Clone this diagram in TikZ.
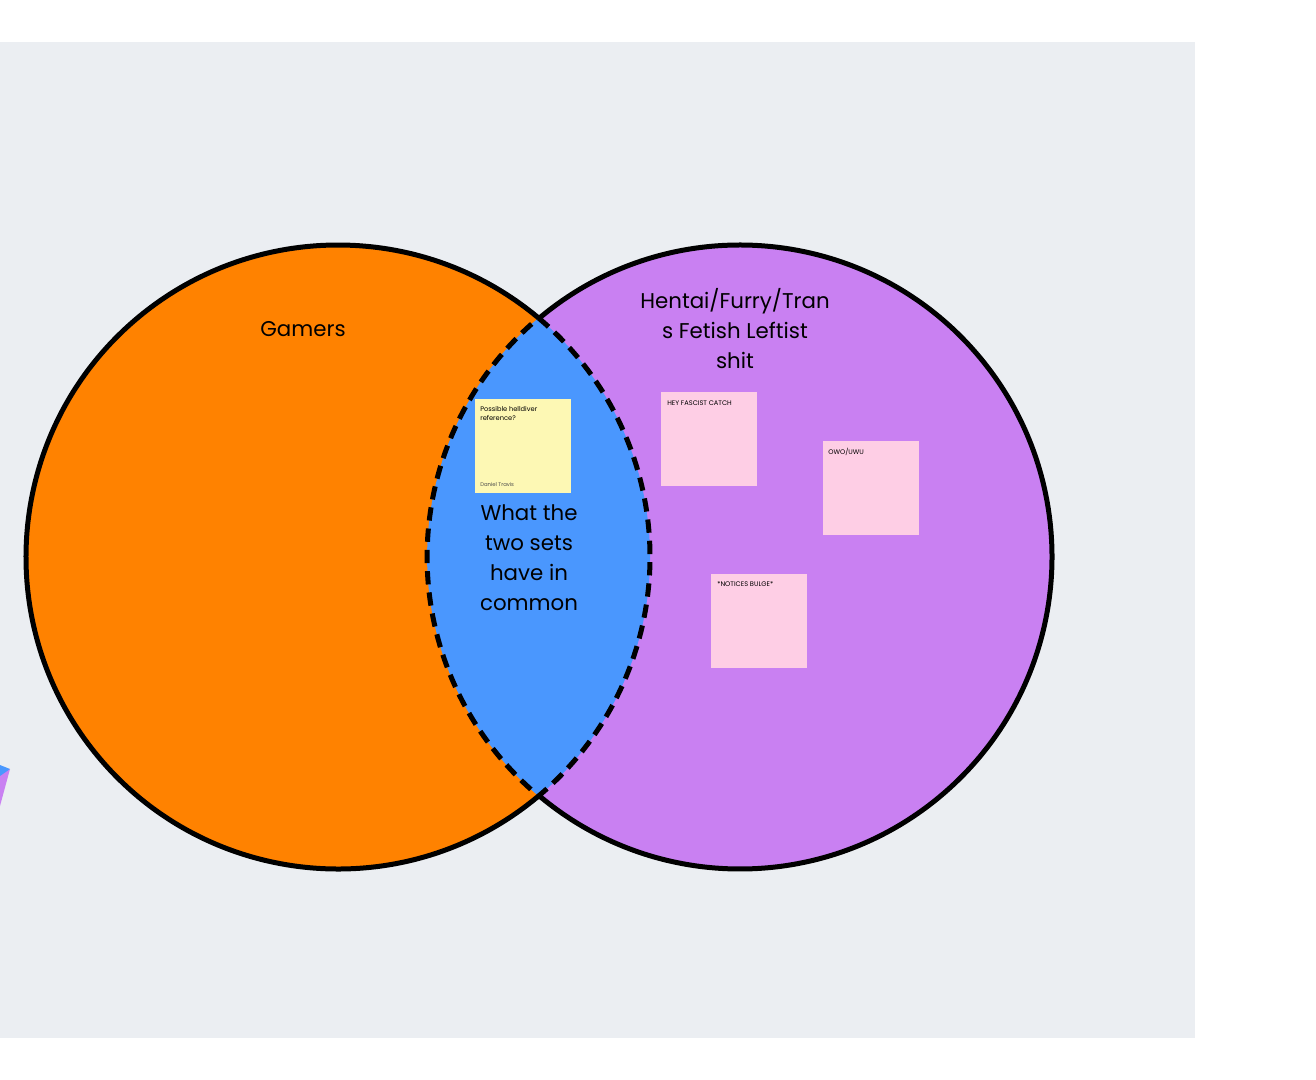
\documentclass[tikz,border=0pt]{standalone}
\usepackage{fontspec}
\setmainfont{Poppins}
\usepackage{tikz}
\usetikzlibrary{positioning}

\definecolor{canvasbg}{RGB}{235,238,242}
\definecolor{setorange}{RGB}{255,130,0}
\definecolor{setpurple}{RGB}{201,128,242}
\definecolor{setblue}{RGB}{74,151,254}
\definecolor{notepink}{RGB}{254,206,229}
\definecolor{noteyellow}{RGB}{253,248,180}

\tikzset{
  setlabel/.style={align=center, font=\fontsize{16}{22.5}\selectfont, inner sep=0.75pt},
  sticky/.style={minimum width=72pt, minimum height=70pt, inner sep=0pt},
  stickytext/.style={anchor=north west, font=\fontsize{5}{7}\selectfont, inner sep=0.75pt, align=left},
}

\begin{document}
\begin{tikzpicture}[x=0.75pt,y=0.75pt,yscale=-1,xscale=1]
\useasboundingbox (0,0) rectangle (1316,1080);

%Background
\fill [canvasbg] (0,42) rectangle (1195,1038);

%Circles
\fill [setorange] (338,557) circle (312);
\fill [setpurple] (740,557) circle (312);
%Lens
\fill [setblue] (338,557) ++(-50:312) arc (-50:50:312) arc (130:230:312) -- cycle;
\draw [line width=3.75pt] (338,557) ++(50:312) arc (50:310:312);
\draw [line width=3.75pt] (740,557) ++(-130:312) arc (-130:130:312);
\draw [line width=3.75pt, dash pattern=on 10pt off 6pt] (338,557) ++(-50:312) arc (-50:50:312) arc (130:230:312) -- cycle;

%Stray shape
\fill [setpurple] (0,774) -- (10,769) -- (0,806) -- cycle;
\fill [setblue] (0,765) -- (10,769) -- (0,776) -- cycle;

% Text Node
\node (gamers) at (303,329) [setlabel] {Gamers};
\node (fetish) at (735,329) [setlabel] {Hentai/Furry/Tran\\s Fetish Leftist\\shit};
\node (common) at (529,558) [setlabel] {What the\\two sets\\have in\\common};

%Stickies
\node (helldiver) at (523,446) [sticky, fill=noteyellow] {};
\node [stickytext] at (479,405) {Possible helldiver\\reference?};
\node [stickytext, font=\fontsize{4}{5}\selectfont, text=black!70] at (479,481) {Daniel Travis};
\node (catch) at (709,439) [sticky, fill=notepink] {};
\node [stickytext] at (666,400) {HEY FASCIST CATCH};
\node (owo) at (871,488) [sticky, fill=notepink] {};
\node [stickytext] at (827,447) {OWO/UWU};
\node (bulge) at (759,621) [sticky, fill=notepink] {};
\node [stickytext] at (716,580) {*NOTICES BULGE*};

\end{tikzpicture}
\end{document}
